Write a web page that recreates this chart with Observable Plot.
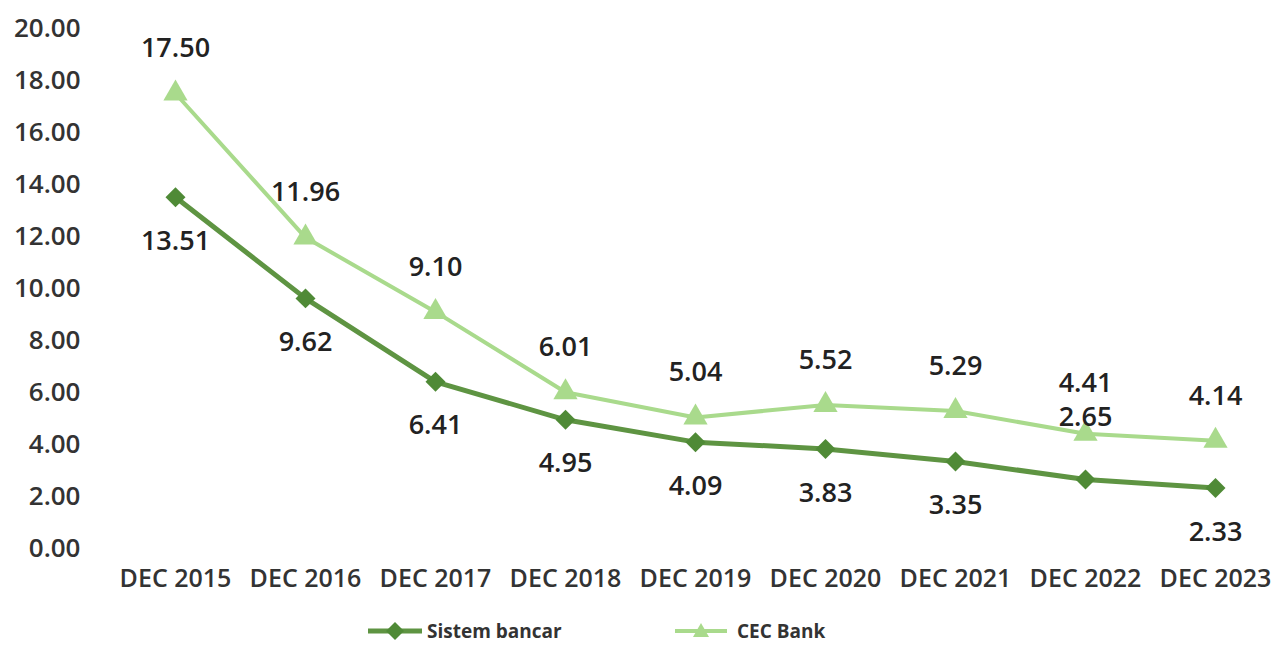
<!DOCTYPE html>
<html><head><meta charset="utf-8">
<script src="https://cdn.jsdelivr.net/npm/d3@7"></script>
<script src="https://cdn.jsdelivr.net/npm/@observablehq/plot@0.6"></script>
<style>
body{margin:0;background:#fff;font-family:"Open Sans",sans-serif;}
#legend{position:relative;height:41px;}
.li{position:absolute;top:0;display:flex;align-items:center;height:41px;font-size:19px;font-weight:700;color:#333;}
</style></head><body>
<div id="chart"></div>
<div id="legend">
  <div class="li" style="left:366px"><svg width="58" height="24"><line x1="2" y1="12" x2="56" y2="12" stroke="#5e9442" stroke-width="5"/><path d="M29,3 L38,12 L29,21 L20,12 Z" fill="#4f8a36"/></svg><span style="margin-left:3px">Sistem bancar</span></div>
  <div class="li" style="left:673px"><svg width="56" height="24"><line x1="2" y1="12" x2="54" y2="12" stroke="#a9da8c" stroke-width="4"/><path d="M28,4 L36,18 L20,18 Z" fill="#a9da8c"/></svg><span style="margin-left:8px">CEC Bank</span></div>
</div>
<script>
const categories = ["DEC 2015","DEC 2016","DEC 2017","DEC 2018","DEC 2019","DEC 2020","DEC 2021","DEC 2022","DEC 2023"];
const sistemBancar = [13.51, 9.62, 6.41, 4.95, 4.09, 3.83, 3.35, 2.65, 2.33];
const cecBank = [17.50, 11.96, 9.10, 6.01, 5.04, 5.52, 5.29, 4.41, 4.14];
const yTicks = [0,2,4,6,8,10,12,14,16,18,20];

const sis = categories.map((c,i)=>({cat:c, v:sistemBancar[i], below: i !== 7}));
const cec = categories.map((c,i)=>({cat:c, v:cecBank[i], hi: i === 7}));

const darkLine = "#5e9442", darkMark = "#4f8a36", light = "#a9da8c";
const fmt = d3.format(".2f");

const plot = Plot.plot({
  width: 1282, height: 610,
  marginLeft: 172, marginRight: 64, marginTop: 28, marginBottom: 62,
  style: {fontFamily: "Open Sans, sans-serif", color: "#333", background: "#fff"},
  x: {type: "point", domain: categories, padding: 0, label: null},
  y: {domain: [0, 20], label: null},
  marks: [
    Plot.axisY({ticks: yTicks, tickFormat: fmt, tickSize: 0, tickPadding: 92, fontSize: 26, fontWeight: 600, fill: "#333", label: null}),
    Plot.axisX({tickSize: 0, tickPadding: 21, fontSize: 25, fontWeight: 600, fill: "#333", label: null}),
    Plot.line(cec, {x: "cat", y: "v", stroke: light, strokeWidth: 4}),
    Plot.line(sis, {x: "cat", y: "v", stroke: darkLine, strokeWidth: 5}),
    Plot.dot(cec, {x: "cat", y: "v", symbol: "triangle", fill: light, r: 9}),
    Plot.dot(sis, {x: "cat", y: "v", symbol: "diamond2", fill: darkMark, r: 9}),
    Plot.text(cec.filter(d=>!d.hi), {x: "cat", y: "v", text: d => fmt(d.v), dy: -45, fontSize: 27, fontWeight: 600, fill: "#222"}),
    Plot.text(cec.filter(d=>d.hi), {x: "cat", y: "v", text: d => fmt(d.v), dy: -50, fontSize: 27, fontWeight: 600, fill: "#222"}),
    Plot.text(sis.filter(d=>d.below), {x: "cat", y: "v", text: d => fmt(d.v), dy: 44, fontSize: 27, fontWeight: 600, fill: "#222"}),
    Plot.text(sis.filter(d=>!d.below), {x: "cat", y: "v", text: d => fmt(d.v), dy: -62, fontSize: 27, fontWeight: 600, fill: "#222"})
  ]
});
document.getElementById("chart").appendChild(plot);
</script>
</body></html>
